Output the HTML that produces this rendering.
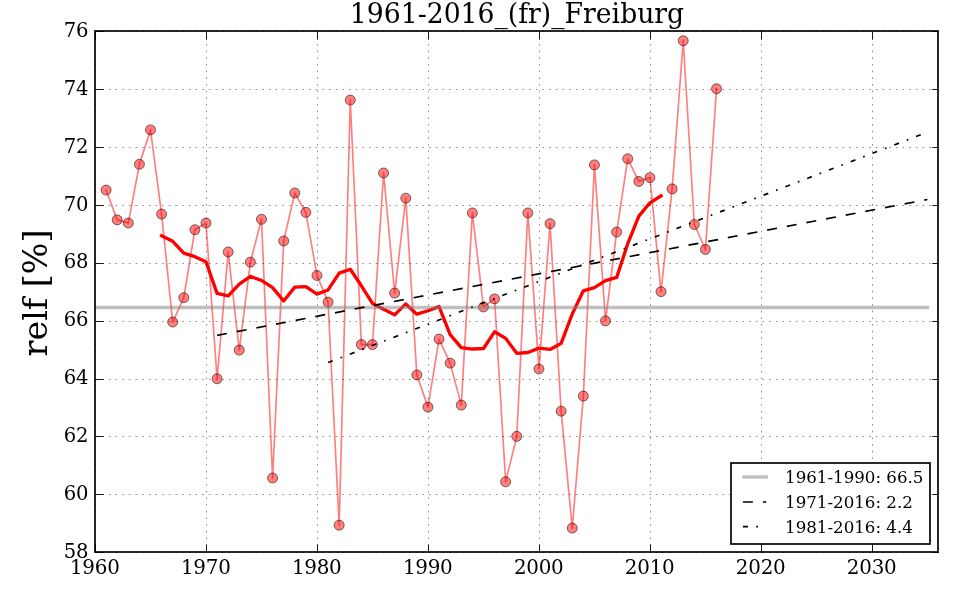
<!DOCTYPE html>
<html lang="en"><head><meta charset="utf-8"><title>1961-2016_(fr)_Freiburg</title>
<style>html,body{margin:0;padding:0;background:#fff;}svg{display:block;}text{font-family:"DejaVu Serif","Liberation Serif",serif;fill:#000;}</style>
</head><body>
<svg width="960" height="600" viewBox="0 0 960 600">
<rect x="0" y="0" width="960" height="600" fill="#fff"/>
<defs><clipPath id="ax"><rect x="95.25" y="31.28" width="843.2" height="520.9"/></clipPath></defs>
<g clip-path="url(#ax)">
<polyline points="106.1,190.07 117.2,219.88 128.3,223.06 139.39,164.31 150.49,129.88 161.59,214.09 172.69,322.04 183.79,297.73 194.89,229.72 205.99,223.06 217.09,378.76 228.18,252 239.28,350.11 250.38,262.13 261.48,219.3 272.58,478.02 283.68,241.01 294.78,192.97 305.88,212.36 316.97,275.44 328.07,302.07 339.17,525.2 350.27,100.07 361.37,344.61 372.47,344.61 383.57,173 394.66,293.1 405.76,198.17 416.86,375 427.96,407.12 439.06,339.11 450.16,363.13 461.26,405.1 472.36,212.93 483.45,306.99 494.55,298.89 505.65,481.79 516.75,436.35 527.85,212.93 538.95,368.92 550.05,223.64 561.14,411.17 572.24,528.09 583.34,396.12 594.44,164.89 605.54,320.88 616.64,232.03 627.74,158.82 638.84,181.39 649.93,177.63 661.03,291.65 672.13,188.91 683.23,40.74 694.33,224.51 705.43,249.4 716.53,88.78" fill="none" stroke="#f00" stroke-opacity="0.5" stroke-width="1.67" stroke-linejoin="round" stroke-linecap="square"/>
<g fill="#f00" fill-opacity="0.5" stroke="#000" stroke-opacity="0.58" stroke-width="0.9">
<circle cx="106.1" cy="190.07" r="5"/>
<circle cx="117.2" cy="219.88" r="5"/>
<circle cx="128.3" cy="223.06" r="5"/>
<circle cx="139.39" cy="164.31" r="5"/>
<circle cx="150.49" cy="129.88" r="5"/>
<circle cx="161.59" cy="214.09" r="5"/>
<circle cx="172.69" cy="322.04" r="5"/>
<circle cx="183.79" cy="297.73" r="5"/>
<circle cx="194.89" cy="229.72" r="5"/>
<circle cx="205.99" cy="223.06" r="5"/>
<circle cx="217.09" cy="378.76" r="5"/>
<circle cx="228.18" cy="252" r="5"/>
<circle cx="239.28" cy="350.11" r="5"/>
<circle cx="250.38" cy="262.13" r="5"/>
<circle cx="261.48" cy="219.3" r="5"/>
<circle cx="272.58" cy="478.02" r="5"/>
<circle cx="283.68" cy="241.01" r="5"/>
<circle cx="294.78" cy="192.97" r="5"/>
<circle cx="305.88" cy="212.36" r="5"/>
<circle cx="316.97" cy="275.44" r="5"/>
<circle cx="328.07" cy="302.07" r="5"/>
<circle cx="339.17" cy="525.2" r="5"/>
<circle cx="350.27" cy="100.07" r="5"/>
<circle cx="361.37" cy="344.61" r="5"/>
<circle cx="372.47" cy="344.61" r="5"/>
<circle cx="383.57" cy="173" r="5"/>
<circle cx="394.66" cy="293.1" r="5"/>
<circle cx="405.76" cy="198.17" r="5"/>
<circle cx="416.86" cy="375" r="5"/>
<circle cx="427.96" cy="407.12" r="5"/>
<circle cx="439.06" cy="339.11" r="5"/>
<circle cx="450.16" cy="363.13" r="5"/>
<circle cx="461.26" cy="405.1" r="5"/>
<circle cx="472.36" cy="212.93" r="5"/>
<circle cx="483.45" cy="306.99" r="5"/>
<circle cx="494.55" cy="298.89" r="5"/>
<circle cx="505.65" cy="481.79" r="5"/>
<circle cx="516.75" cy="436.35" r="5"/>
<circle cx="527.85" cy="212.93" r="5"/>
<circle cx="538.95" cy="368.92" r="5"/>
<circle cx="550.05" cy="223.64" r="5"/>
<circle cx="561.14" cy="411.17" r="5"/>
<circle cx="572.24" cy="528.09" r="5"/>
<circle cx="583.34" cy="396.12" r="5"/>
<circle cx="594.44" cy="164.89" r="5"/>
<circle cx="605.54" cy="320.88" r="5"/>
<circle cx="616.64" cy="232.03" r="5"/>
<circle cx="627.74" cy="158.82" r="5"/>
<circle cx="638.84" cy="181.39" r="5"/>
<circle cx="649.93" cy="177.63" r="5"/>
<circle cx="661.03" cy="291.65" r="5"/>
<circle cx="672.13" cy="188.91" r="5"/>
<circle cx="683.23" cy="40.74" r="5"/>
<circle cx="694.33" cy="224.51" r="5"/>
<circle cx="705.43" cy="249.4" r="5"/>
<circle cx="716.53" cy="88.78" r="5"/>
</g>
<polyline points="161.59,235.69 172.69,241.32 183.79,253.16 194.89,256.71 205.99,261.71 217.09,293.36 228.18,295.81 239.28,284.07 250.38,276.31 261.48,280.47 272.58,287.65 283.68,300.96 294.78,287.15 305.88,286.65 316.97,294.15 328.07,289.94 339.17,273.13 350.27,269.24 361.37,285.78 372.47,303.49 383.57,309.28 394.66,314.83 405.76,303.91 416.86,314.17 427.96,310.75 439.06,306.59 450.16,334.67 461.26,347.69 472.36,349.03 483.45,348.48 494.55,331.8 505.65,338.35 516.75,353.35 527.85,352.53 538.95,348.16 550.05,349.43 561.14,343.35 572.24,313.99 583.34,290.81 594.44,287.6 605.54,280.57 616.64,277.42 627.74,243.74 638.84,216.14 649.93,202.8 661.03,195.89" fill="none" stroke="#f00" stroke-width="3.33" stroke-linejoin="round" stroke-linecap="square"/>
<line x1="95" y1="307.5" x2="927.4" y2="307.5" stroke="#808080" stroke-opacity="0.5" stroke-width="3.33" stroke-linecap="square"/>
<line x1="217.09" y1="335.35" x2="927.4" y2="199.52" stroke="#000" stroke-width="1.67" stroke-dasharray="10,10"/>
<line x1="328.07" y1="362.55" x2="927.4" y2="132.2" stroke="#000" stroke-width="1.67" stroke-dasharray="5,8.33,1.67,8.33"/>
</g>
<g stroke="#000" stroke-opacity="0.43" stroke-width="1" stroke-dasharray="1.67,5" fill="none">
<line x1="95.5" y1="552.5" x2="95.5" y2="31.5"/>
<line x1="206.5" y1="552.5" x2="206.5" y2="31.5"/>
<line x1="317.5" y1="552.5" x2="317.5" y2="31.5"/>
<line x1="428.5" y1="552.5" x2="428.5" y2="31.5"/>
<line x1="539.5" y1="552.5" x2="539.5" y2="31.5"/>
<line x1="650.5" y1="552.5" x2="650.5" y2="31.5"/>
<line x1="761.5" y1="552.5" x2="761.5" y2="31.5"/>
<line x1="872.5" y1="552.5" x2="872.5" y2="31.5"/>
<line x1="95.5" y1="552.5" x2="939.5" y2="552.5"/>
<line x1="95.5" y1="494.5" x2="939.5" y2="494.5"/>
<line x1="95.5" y1="436.5" x2="939.5" y2="436.5"/>
<line x1="95.5" y1="379.5" x2="939.5" y2="379.5"/>
<line x1="95.5" y1="321.5" x2="939.5" y2="321.5"/>
<line x1="95.5" y1="263.5" x2="939.5" y2="263.5"/>
<line x1="95.5" y1="205.5" x2="939.5" y2="205.5"/>
<line x1="95.5" y1="147.5" x2="939.5" y2="147.5"/>
<line x1="95.5" y1="89.5" x2="939.5" y2="89.5"/>
<line x1="95.5" y1="31.5" x2="939.5" y2="31.5"/>
</g>
<g stroke="#000" stroke-opacity="0.9" stroke-width="1">
<line x1="95.5" y1="552.2" x2="95.5" y2="544.5"/>
<line x1="95.5" y1="31.28" x2="95.5" y2="39.68"/>
<line x1="206.5" y1="552.2" x2="206.5" y2="544.5"/>
<line x1="206.5" y1="31.28" x2="206.5" y2="39.68"/>
<line x1="317.5" y1="552.2" x2="317.5" y2="544.5"/>
<line x1="317.5" y1="31.28" x2="317.5" y2="39.68"/>
<line x1="428.5" y1="552.2" x2="428.5" y2="544.5"/>
<line x1="428.5" y1="31.28" x2="428.5" y2="39.68"/>
<line x1="539.5" y1="552.2" x2="539.5" y2="544.5"/>
<line x1="539.5" y1="31.28" x2="539.5" y2="39.68"/>
<line x1="650.5" y1="552.2" x2="650.5" y2="544.5"/>
<line x1="650.5" y1="31.28" x2="650.5" y2="39.68"/>
<line x1="761.5" y1="552.2" x2="761.5" y2="544.5"/>
<line x1="761.5" y1="31.28" x2="761.5" y2="39.68"/>
<line x1="872.5" y1="552.2" x2="872.5" y2="544.5"/>
<line x1="872.5" y1="31.28" x2="872.5" y2="39.68"/>
<line x1="95.25" y1="552.5" x2="103.65" y2="552.5"/>
<line x1="938.75" y1="552.5" x2="932.25" y2="552.5"/>
<line x1="95.25" y1="494.5" x2="103.65" y2="494.5"/>
<line x1="938.75" y1="494.5" x2="932.25" y2="494.5"/>
<line x1="95.25" y1="436.5" x2="103.65" y2="436.5"/>
<line x1="938.75" y1="436.5" x2="932.25" y2="436.5"/>
<line x1="95.25" y1="379.5" x2="103.65" y2="379.5"/>
<line x1="938.75" y1="379.5" x2="932.25" y2="379.5"/>
<line x1="95.25" y1="321.5" x2="103.65" y2="321.5"/>
<line x1="938.75" y1="321.5" x2="932.25" y2="321.5"/>
<line x1="95.25" y1="263.5" x2="103.65" y2="263.5"/>
<line x1="938.75" y1="263.5" x2="932.25" y2="263.5"/>
<line x1="95.25" y1="205.5" x2="103.65" y2="205.5"/>
<line x1="938.75" y1="205.5" x2="932.25" y2="205.5"/>
<line x1="95.25" y1="147.5" x2="103.65" y2="147.5"/>
<line x1="938.75" y1="147.5" x2="932.25" y2="147.5"/>
<line x1="95.25" y1="89.5" x2="103.65" y2="89.5"/>
<line x1="938.75" y1="89.5" x2="932.25" y2="89.5"/>
<line x1="95.25" y1="31.5" x2="103.65" y2="31.5"/>
<line x1="938.75" y1="31.5" x2="932.25" y2="31.5"/>
</g>
<rect x="95" y="31" width="843" height="521" fill="none" stroke="#000" stroke-width="1.67"/>
<g font-size="20" letter-spacing="-0.25">
<text transform="translate(94.75,574.1) scale(0.995,1)" text-anchor="middle">1960</text>
<text transform="translate(205.74,574.1) scale(0.995,1)" text-anchor="middle">1970</text>
<text transform="translate(316.72,574.1) scale(0.995,1)" text-anchor="middle">1980</text>
<text transform="translate(427.71,574.1) scale(0.995,1)" text-anchor="middle">1990</text>
<text transform="translate(538.7,574.1) scale(0.995,1)" text-anchor="middle">2000</text>
<text transform="translate(649.68,574.1) scale(0.995,1)" text-anchor="middle">2010</text>
<text transform="translate(760.67,574.1) scale(0.995,1)" text-anchor="middle">2020</text>
<text transform="translate(871.66,574.1) scale(0.995,1)" text-anchor="middle">2030</text>
<text transform="translate(88.3,557.8) scale(0.98,1)" text-anchor="end">58</text>
<text transform="translate(88.3,499.92) scale(0.98,1)" text-anchor="end">60</text>
<text transform="translate(88.3,442.04) scale(0.98,1)" text-anchor="end">62</text>
<text transform="translate(88.3,384.16) scale(0.98,1)" text-anchor="end">64</text>
<text transform="translate(88.3,326.28) scale(0.98,1)" text-anchor="end">66</text>
<text transform="translate(88.3,268.4) scale(0.98,1)" text-anchor="end">68</text>
<text transform="translate(88.3,210.52) scale(0.98,1)" text-anchor="end">70</text>
<text transform="translate(88.3,152.64) scale(0.98,1)" text-anchor="end">72</text>
<text transform="translate(88.3,94.76) scale(0.98,1)" text-anchor="end">74</text>
<text transform="translate(88.3,36.88) scale(0.98,1)" text-anchor="end">76</text>
</g>
<text transform="translate(517,22.5) scale(1,1.06)" font-size="26.67" text-anchor="middle">1961-2016_(fr)_Freiburg</text>
<text transform="translate(46.5,293) rotate(-90)" font-size="33.33" text-anchor="middle">relf [%]</text>
<rect x="731" y="463" width="199" height="81" fill="#fff" stroke="#000" stroke-width="1.67"/>
<line x1="744" y1="477" x2="766.3" y2="477" stroke="#808080" stroke-opacity="0.5" stroke-width="3.33" stroke-linecap="square"/>
<line x1="742.9" y1="502" x2="766.2" y2="502" stroke="#000" stroke-width="1.67" stroke-dasharray="10,10"/>
<line x1="742.9" y1="526.7" x2="766.2" y2="526.7" stroke="#000" stroke-width="1.67" stroke-dasharray="5,8.33,1.67,8.33"/>
<g font-size="16.67">
<text x="785.05" y="482.5">1961-1990: 66.5</text>
<text x="785.05" y="507.8">1971-2016: 2.2</text>
<text x="785.05" y="533">1981-2016: 4.4</text>
</g>
</svg>
</body></html>
